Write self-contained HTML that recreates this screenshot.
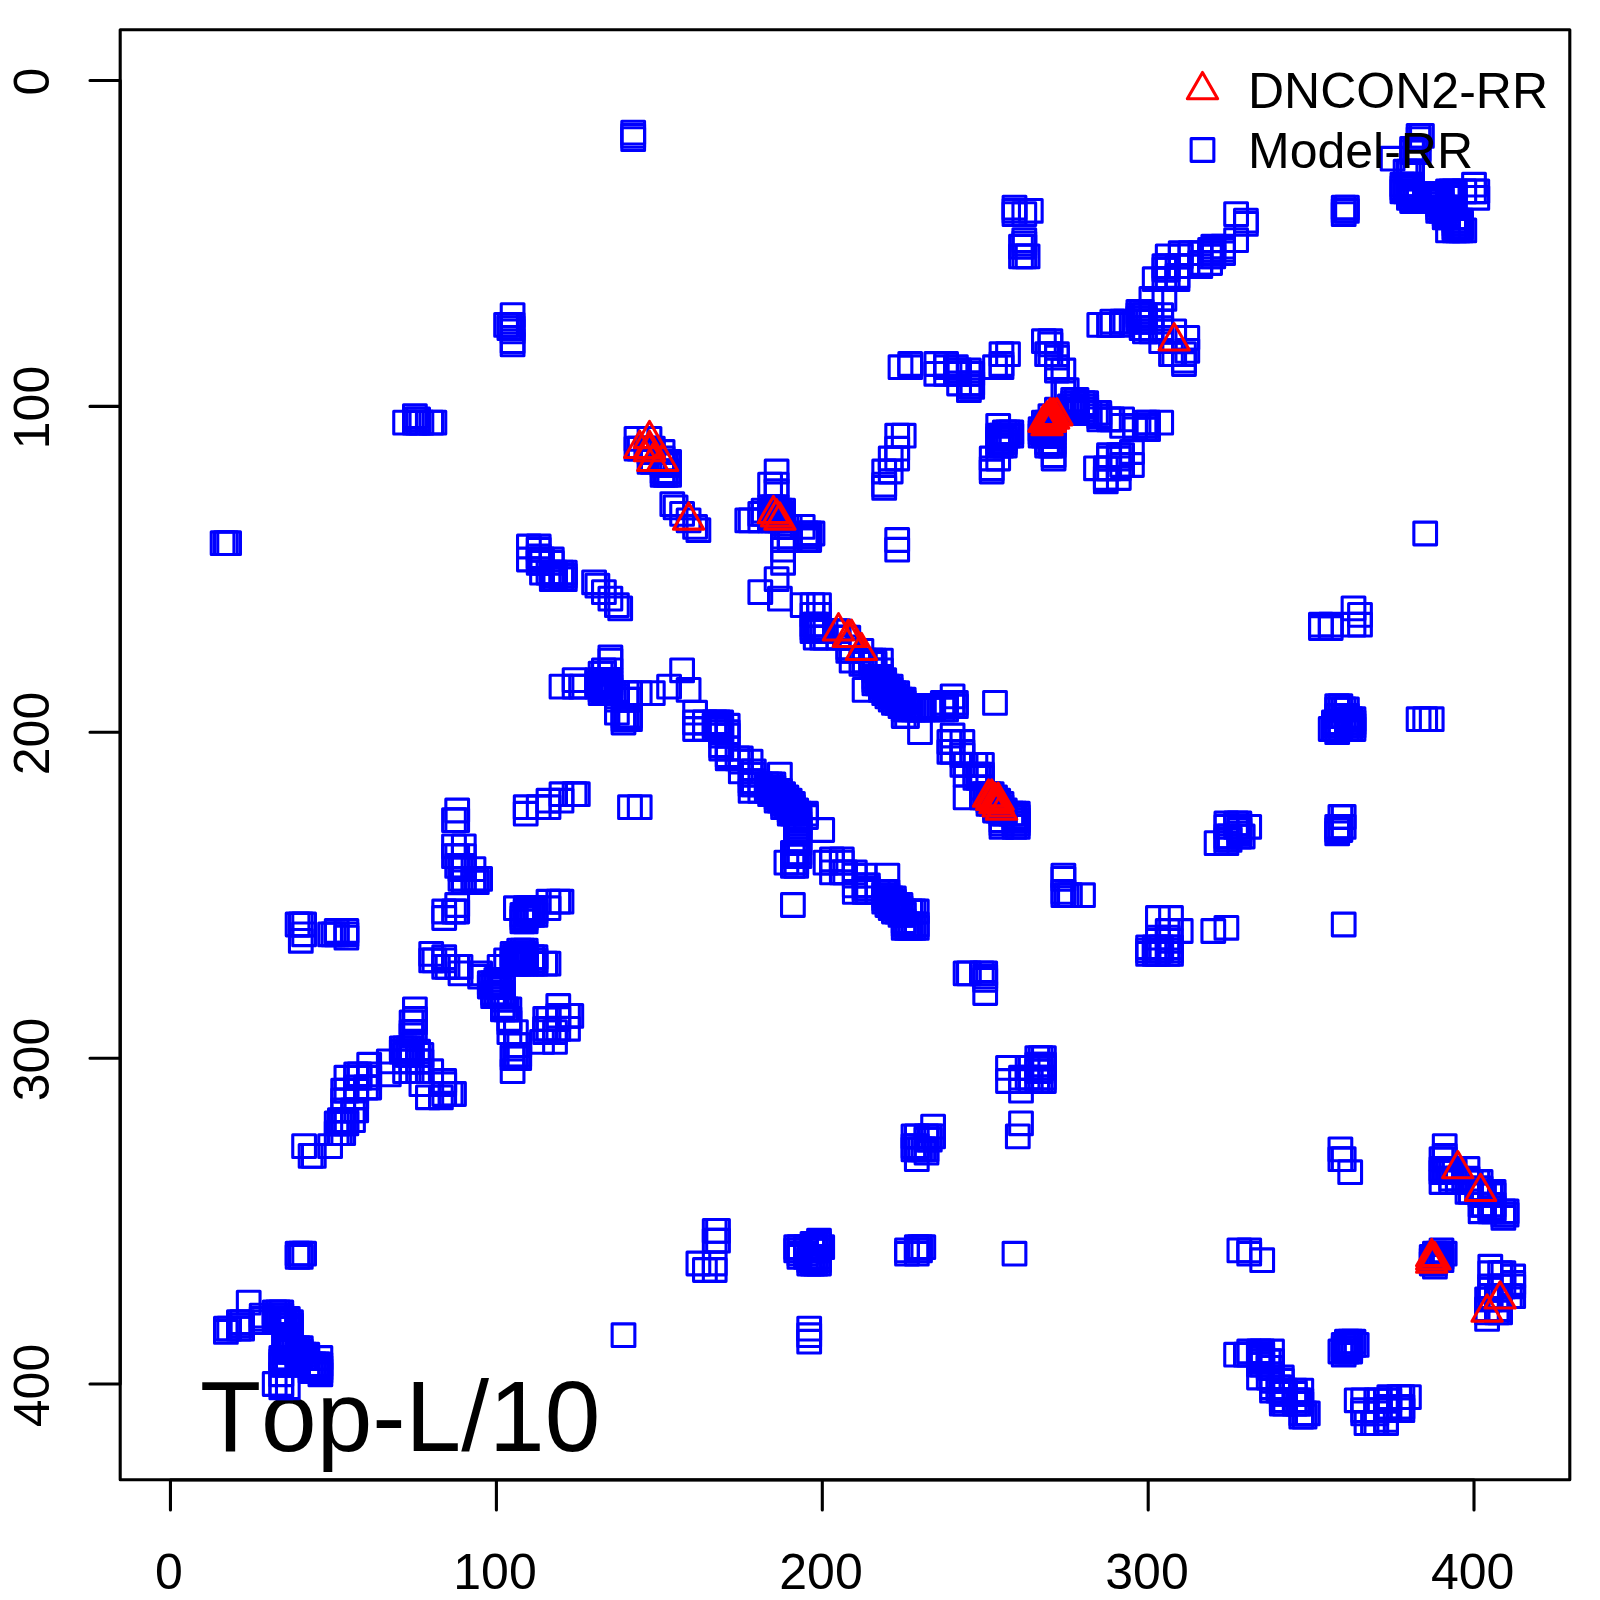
<!DOCTYPE html>
<html><head><meta charset="utf-8"><title>plot</title>
<style>
html,body{margin:0;padding:0;background:#fff;}
svg{display:block;}
text{font-family:"Liberation Sans",sans-serif;fill:#000;font-kerning:none;font-variant-ligatures:none;}
</style></head><body>
<svg xmlns="http://www.w3.org/2000/svg" width="1600" height="1600" viewBox="0 0 1600 1600">
<defs>
<rect id="s" x="-11.35" y="-11.35" width="22.7" height="22.7" fill="none" stroke="#0000ff" stroke-width="3.1" stroke-linejoin="round"/>
<path id="t" d="M0 -17.5 L15.15 8.75 L-15.15 8.75 Z" fill="none" stroke="#ff0000" stroke-width="3.1" stroke-linejoin="round"/>
</defs>
<rect x="0" y="0" width="1600" height="1600" fill="#fff"/>
<text x="200" y="1451" font-size="100">Top-L/10</text>
<g>
<use href="#s" x="222.6" y="543.2"/>
<use href="#s" x="225.9" y="543.2"/>
<use href="#s" x="225.9" y="1328.6"/>
<use href="#s" x="225.9" y="1331.9"/>
<use href="#s" x="229.1" y="543.2"/>
<use href="#s" x="229.1" y="1328.6"/>
<use href="#s" x="238.9" y="1322.1"/>
<use href="#s" x="238.9" y="1325.4"/>
<use href="#s" x="238.9" y="1328.6"/>
<use href="#s" x="242.1" y="1322.1"/>
<use href="#s" x="242.1" y="1325.4"/>
<use href="#s" x="242.1" y="1328.6"/>
<use href="#s" x="248.7" y="1302.6"/>
<use href="#s" x="261.7" y="1315.6"/>
<use href="#s" x="261.7" y="1318.9"/>
<use href="#s" x="261.7" y="1322.1"/>
<use href="#s" x="274.7" y="1312.4"/>
<use href="#s" x="274.7" y="1315.6"/>
<use href="#s" x="274.7" y="1318.9"/>
<use href="#s" x="274.7" y="1322.1"/>
<use href="#s" x="274.7" y="1384.0"/>
<use href="#s" x="278.0" y="1312.4"/>
<use href="#s" x="278.0" y="1315.6"/>
<use href="#s" x="278.0" y="1318.9"/>
<use href="#s" x="278.0" y="1322.1"/>
<use href="#s" x="281.3" y="1312.4"/>
<use href="#s" x="281.3" y="1315.6"/>
<use href="#s" x="281.3" y="1318.9"/>
<use href="#s" x="281.3" y="1322.1"/>
<use href="#s" x="281.3" y="1358.0"/>
<use href="#s" x="281.3" y="1361.2"/>
<use href="#s" x="281.3" y="1364.5"/>
<use href="#s" x="281.3" y="1374.3"/>
<use href="#s" x="281.3" y="1384.0"/>
<use href="#s" x="281.3" y="1387.3"/>
<use href="#s" x="284.5" y="1318.9"/>
<use href="#s" x="284.5" y="1322.1"/>
<use href="#s" x="284.5" y="1325.4"/>
<use href="#s" x="284.5" y="1328.6"/>
<use href="#s" x="284.5" y="1335.2"/>
<use href="#s" x="284.5" y="1338.4"/>
<use href="#s" x="284.5" y="1341.7"/>
<use href="#s" x="284.5" y="1344.9"/>
<use href="#s" x="284.5" y="1348.2"/>
<use href="#s" x="284.5" y="1351.5"/>
<use href="#s" x="284.5" y="1358.0"/>
<use href="#s" x="284.5" y="1361.2"/>
<use href="#s" x="284.5" y="1364.5"/>
<use href="#s" x="287.8" y="1318.9"/>
<use href="#s" x="287.8" y="1322.1"/>
<use href="#s" x="287.8" y="1325.4"/>
<use href="#s" x="287.8" y="1328.6"/>
<use href="#s" x="287.8" y="1335.2"/>
<use href="#s" x="287.8" y="1338.4"/>
<use href="#s" x="287.8" y="1341.7"/>
<use href="#s" x="287.8" y="1344.9"/>
<use href="#s" x="287.8" y="1348.2"/>
<use href="#s" x="287.8" y="1351.5"/>
<use href="#s" x="287.8" y="1358.0"/>
<use href="#s" x="287.8" y="1361.2"/>
<use href="#s" x="287.8" y="1364.5"/>
<use href="#s" x="287.8" y="1387.3"/>
<use href="#s" x="291.0" y="1322.1"/>
<use href="#s" x="291.0" y="1325.4"/>
<use href="#s" x="291.0" y="1328.6"/>
<use href="#s" x="291.0" y="1335.2"/>
<use href="#s" x="291.0" y="1338.4"/>
<use href="#s" x="291.0" y="1341.7"/>
<use href="#s" x="291.0" y="1344.9"/>
<use href="#s" x="291.0" y="1348.2"/>
<use href="#s" x="291.0" y="1351.5"/>
<use href="#s" x="294.3" y="1348.2"/>
<use href="#s" x="294.3" y="1351.5"/>
<use href="#s" x="297.6" y="924.5"/>
<use href="#s" x="297.6" y="1253.7"/>
<use href="#s" x="297.6" y="1256.9"/>
<use href="#s" x="297.6" y="1348.2"/>
<use href="#s" x="297.6" y="1351.5"/>
<use href="#s" x="297.6" y="1354.7"/>
<use href="#s" x="297.6" y="1358.0"/>
<use href="#s" x="297.6" y="1361.2"/>
<use href="#s" x="297.6" y="1364.5"/>
<use href="#s" x="300.8" y="924.5"/>
<use href="#s" x="300.8" y="940.8"/>
<use href="#s" x="300.8" y="1253.7"/>
<use href="#s" x="300.8" y="1256.9"/>
<use href="#s" x="300.8" y="1348.2"/>
<use href="#s" x="300.8" y="1351.5"/>
<use href="#s" x="300.8" y="1354.7"/>
<use href="#s" x="300.8" y="1358.0"/>
<use href="#s" x="304.1" y="924.5"/>
<use href="#s" x="304.1" y="934.3"/>
<use href="#s" x="304.1" y="1146.1"/>
<use href="#s" x="304.1" y="1253.7"/>
<use href="#s" x="304.1" y="1354.7"/>
<use href="#s" x="304.1" y="1358.0"/>
<use href="#s" x="307.3" y="1354.7"/>
<use href="#s" x="307.3" y="1358.0"/>
<use href="#s" x="307.3" y="1364.5"/>
<use href="#s" x="310.6" y="1155.9"/>
<use href="#s" x="310.6" y="1364.5"/>
<use href="#s" x="310.6" y="1367.8"/>
<use href="#s" x="310.6" y="1371.0"/>
<use href="#s" x="313.8" y="1155.9"/>
<use href="#s" x="313.8" y="1364.5"/>
<use href="#s" x="313.8" y="1367.8"/>
<use href="#s" x="313.8" y="1371.0"/>
<use href="#s" x="317.1" y="1364.5"/>
<use href="#s" x="317.1" y="1367.8"/>
<use href="#s" x="317.1" y="1371.0"/>
<use href="#s" x="320.4" y="1358.0"/>
<use href="#s" x="320.4" y="1364.5"/>
<use href="#s" x="320.4" y="1367.8"/>
<use href="#s" x="320.4" y="1371.0"/>
<use href="#s" x="320.4" y="1374.3"/>
<use href="#s" x="330.1" y="934.3"/>
<use href="#s" x="330.1" y="1146.1"/>
<use href="#s" x="333.4" y="934.3"/>
<use href="#s" x="336.7" y="931.0"/>
<use href="#s" x="336.7" y="934.3"/>
<use href="#s" x="336.7" y="1123.3"/>
<use href="#s" x="336.7" y="1133.1"/>
<use href="#s" x="339.9" y="1120.1"/>
<use href="#s" x="339.9" y="1123.3"/>
<use href="#s" x="339.9" y="1133.1"/>
<use href="#s" x="343.2" y="1090.7"/>
<use href="#s" x="343.2" y="1100.5"/>
<use href="#s" x="343.2" y="1110.3"/>
<use href="#s" x="343.2" y="1120.1"/>
<use href="#s" x="343.2" y="1123.3"/>
<use href="#s" x="343.2" y="1133.1"/>
<use href="#s" x="346.4" y="931.0"/>
<use href="#s" x="346.4" y="934.3"/>
<use href="#s" x="346.4" y="937.6"/>
<use href="#s" x="346.4" y="1077.7"/>
<use href="#s" x="346.4" y="1090.7"/>
<use href="#s" x="346.4" y="1120.1"/>
<use href="#s" x="346.4" y="1123.3"/>
<use href="#s" x="353.0" y="1110.3"/>
<use href="#s" x="353.0" y="1120.1"/>
<use href="#s" x="356.2" y="1074.4"/>
<use href="#s" x="356.2" y="1077.7"/>
<use href="#s" x="356.2" y="1087.5"/>
<use href="#s" x="356.2" y="1090.7"/>
<use href="#s" x="356.2" y="1097.3"/>
<use href="#s" x="356.2" y="1110.3"/>
<use href="#s" x="359.5" y="1074.4"/>
<use href="#s" x="359.5" y="1077.7"/>
<use href="#s" x="366.0" y="1087.5"/>
<use href="#s" x="369.2" y="1064.7"/>
<use href="#s" x="369.2" y="1074.4"/>
<use href="#s" x="369.2" y="1077.7"/>
<use href="#s" x="369.2" y="1087.5"/>
<use href="#s" x="388.8" y="1061.4"/>
<use href="#s" x="388.8" y="1074.4"/>
<use href="#s" x="401.8" y="1048.4"/>
<use href="#s" x="401.8" y="1051.6"/>
<use href="#s" x="405.1" y="422.6"/>
<use href="#s" x="405.1" y="1048.4"/>
<use href="#s" x="405.1" y="1051.6"/>
<use href="#s" x="405.1" y="1054.9"/>
<use href="#s" x="405.1" y="1061.4"/>
<use href="#s" x="405.1" y="1071.2"/>
<use href="#s" x="408.4" y="1048.4"/>
<use href="#s" x="408.4" y="1051.6"/>
<use href="#s" x="408.4" y="1054.9"/>
<use href="#s" x="411.6" y="1022.3"/>
<use href="#s" x="411.6" y="1032.1"/>
<use href="#s" x="411.6" y="1035.3"/>
<use href="#s" x="411.6" y="1048.4"/>
<use href="#s" x="411.6" y="1051.6"/>
<use href="#s" x="411.6" y="1054.9"/>
<use href="#s" x="411.6" y="1061.4"/>
<use href="#s" x="411.6" y="1071.2"/>
<use href="#s" x="414.9" y="416.1"/>
<use href="#s" x="414.9" y="419.4"/>
<use href="#s" x="414.9" y="422.6"/>
<use href="#s" x="414.9" y="1009.3"/>
<use href="#s" x="414.9" y="1019.0"/>
<use href="#s" x="414.9" y="1022.3"/>
<use href="#s" x="414.9" y="1032.1"/>
<use href="#s" x="418.1" y="419.4"/>
<use href="#s" x="418.1" y="422.6"/>
<use href="#s" x="418.1" y="1051.6"/>
<use href="#s" x="418.1" y="1054.9"/>
<use href="#s" x="418.1" y="1061.4"/>
<use href="#s" x="418.1" y="1071.2"/>
<use href="#s" x="421.4" y="422.6"/>
<use href="#s" x="421.4" y="1054.9"/>
<use href="#s" x="421.4" y="1061.4"/>
<use href="#s" x="421.4" y="1071.2"/>
<use href="#s" x="421.4" y="1084.2"/>
<use href="#s" x="427.9" y="1097.3"/>
<use href="#s" x="431.2" y="422.6"/>
<use href="#s" x="431.2" y="953.9"/>
<use href="#s" x="431.2" y="960.4"/>
<use href="#s" x="431.2" y="1071.2"/>
<use href="#s" x="434.4" y="422.6"/>
<use href="#s" x="434.4" y="960.4"/>
<use href="#s" x="440.9" y="1097.3"/>
<use href="#s" x="444.2" y="911.5"/>
<use href="#s" x="444.2" y="918.0"/>
<use href="#s" x="444.2" y="957.1"/>
<use href="#s" x="444.2" y="960.4"/>
<use href="#s" x="444.2" y="966.9"/>
<use href="#s" x="444.2" y="1081.0"/>
<use href="#s" x="444.2" y="1084.2"/>
<use href="#s" x="444.2" y="1094.0"/>
<use href="#s" x="447.5" y="966.9"/>
<use href="#s" x="450.7" y="1094.0"/>
<use href="#s" x="454.0" y="820.2"/>
<use href="#s" x="454.0" y="846.3"/>
<use href="#s" x="454.0" y="856.1"/>
<use href="#s" x="454.0" y="911.5"/>
<use href="#s" x="454.0" y="1094.0"/>
<use href="#s" x="457.2" y="810.5"/>
<use href="#s" x="457.2" y="820.2"/>
<use href="#s" x="457.2" y="856.1"/>
<use href="#s" x="457.2" y="865.9"/>
<use href="#s" x="457.2" y="905.0"/>
<use href="#s" x="457.2" y="911.5"/>
<use href="#s" x="457.2" y="966.9"/>
<use href="#s" x="460.5" y="865.9"/>
<use href="#s" x="460.5" y="869.1"/>
<use href="#s" x="460.5" y="878.9"/>
<use href="#s" x="460.5" y="966.9"/>
<use href="#s" x="460.5" y="973.4"/>
<use href="#s" x="463.8" y="846.3"/>
<use href="#s" x="463.8" y="856.1"/>
<use href="#s" x="463.8" y="865.9"/>
<use href="#s" x="463.8" y="869.1"/>
<use href="#s" x="463.8" y="878.9"/>
<use href="#s" x="463.8" y="882.2"/>
<use href="#s" x="473.5" y="869.1"/>
<use href="#s" x="473.5" y="878.9"/>
<use href="#s" x="473.5" y="882.2"/>
<use href="#s" x="476.8" y="878.9"/>
<use href="#s" x="476.8" y="882.2"/>
<use href="#s" x="480.1" y="878.9"/>
<use href="#s" x="480.1" y="973.4"/>
<use href="#s" x="480.1" y="976.7"/>
<use href="#s" x="489.8" y="983.2"/>
<use href="#s" x="489.8" y="986.5"/>
<use href="#s" x="493.1" y="983.2"/>
<use href="#s" x="493.1" y="986.5"/>
<use href="#s" x="493.1" y="993.0"/>
<use href="#s" x="493.1" y="996.2"/>
<use href="#s" x="496.3" y="979.9"/>
<use href="#s" x="496.3" y="983.2"/>
<use href="#s" x="496.3" y="986.5"/>
<use href="#s" x="496.3" y="993.0"/>
<use href="#s" x="496.3" y="996.2"/>
<use href="#s" x="499.6" y="966.9"/>
<use href="#s" x="499.6" y="979.9"/>
<use href="#s" x="499.6" y="983.2"/>
<use href="#s" x="499.6" y="986.5"/>
<use href="#s" x="499.6" y="993.0"/>
<use href="#s" x="499.6" y="996.2"/>
<use href="#s" x="502.9" y="983.2"/>
<use href="#s" x="502.9" y="986.5"/>
<use href="#s" x="502.9" y="993.0"/>
<use href="#s" x="502.9" y="996.2"/>
<use href="#s" x="502.9" y="999.5"/>
<use href="#s" x="502.9" y="1006.0"/>
<use href="#s" x="502.9" y="1009.3"/>
<use href="#s" x="506.1" y="324.9"/>
<use href="#s" x="506.1" y="960.4"/>
<use href="#s" x="506.1" y="1009.3"/>
<use href="#s" x="509.4" y="324.9"/>
<use href="#s" x="509.4" y="328.1"/>
<use href="#s" x="509.4" y="1009.3"/>
<use href="#s" x="509.4" y="1019.0"/>
<use href="#s" x="509.4" y="1022.3"/>
<use href="#s" x="509.4" y="1032.1"/>
<use href="#s" x="512.6" y="315.1"/>
<use href="#s" x="512.6" y="324.9"/>
<use href="#s" x="512.6" y="328.1"/>
<use href="#s" x="512.6" y="331.4"/>
<use href="#s" x="512.6" y="341.2"/>
<use href="#s" x="512.6" y="344.4"/>
<use href="#s" x="512.6" y="953.9"/>
<use href="#s" x="512.6" y="957.1"/>
<use href="#s" x="512.6" y="960.4"/>
<use href="#s" x="512.6" y="963.6"/>
<use href="#s" x="512.6" y="1054.9"/>
<use href="#s" x="512.6" y="1058.1"/>
<use href="#s" x="512.6" y="1071.2"/>
<use href="#s" x="515.9" y="908.2"/>
<use href="#s" x="515.9" y="953.9"/>
<use href="#s" x="515.9" y="957.1"/>
<use href="#s" x="515.9" y="960.4"/>
<use href="#s" x="515.9" y="963.6"/>
<use href="#s" x="515.9" y="1032.1"/>
<use href="#s" x="515.9" y="1045.1"/>
<use href="#s" x="515.9" y="1054.9"/>
<use href="#s" x="515.9" y="1058.1"/>
<use href="#s" x="519.2" y="950.6"/>
<use href="#s" x="519.2" y="953.9"/>
<use href="#s" x="519.2" y="957.1"/>
<use href="#s" x="519.2" y="960.4"/>
<use href="#s" x="519.2" y="963.6"/>
<use href="#s" x="519.2" y="1045.1"/>
<use href="#s" x="519.2" y="1054.9"/>
<use href="#s" x="519.2" y="1058.1"/>
<use href="#s" x="522.4" y="914.8"/>
<use href="#s" x="522.4" y="918.0"/>
<use href="#s" x="522.4" y="921.3"/>
<use href="#s" x="522.4" y="950.6"/>
<use href="#s" x="522.4" y="953.9"/>
<use href="#s" x="522.4" y="957.1"/>
<use href="#s" x="522.4" y="960.4"/>
<use href="#s" x="522.4" y="963.6"/>
<use href="#s" x="525.7" y="807.2"/>
<use href="#s" x="525.7" y="813.7"/>
<use href="#s" x="525.7" y="908.2"/>
<use href="#s" x="525.7" y="911.5"/>
<use href="#s" x="525.7" y="914.8"/>
<use href="#s" x="525.7" y="918.0"/>
<use href="#s" x="525.7" y="921.3"/>
<use href="#s" x="525.7" y="950.6"/>
<use href="#s" x="525.7" y="953.9"/>
<use href="#s" x="525.7" y="957.1"/>
<use href="#s" x="525.7" y="960.4"/>
<use href="#s" x="525.7" y="963.6"/>
<use href="#s" x="528.9" y="546.5"/>
<use href="#s" x="528.9" y="559.5"/>
<use href="#s" x="528.9" y="908.2"/>
<use href="#s" x="528.9" y="911.5"/>
<use href="#s" x="528.9" y="914.8"/>
<use href="#s" x="532.2" y="908.2"/>
<use href="#s" x="532.2" y="911.5"/>
<use href="#s" x="532.2" y="914.8"/>
<use href="#s" x="532.2" y="957.1"/>
<use href="#s" x="532.2" y="960.4"/>
<use href="#s" x="532.2" y="963.6"/>
<use href="#s" x="535.5" y="908.2"/>
<use href="#s" x="535.5" y="911.5"/>
<use href="#s" x="535.5" y="914.8"/>
<use href="#s" x="535.5" y="957.1"/>
<use href="#s" x="535.5" y="960.4"/>
<use href="#s" x="535.5" y="963.6"/>
<use href="#s" x="538.7" y="546.5"/>
<use href="#s" x="538.7" y="549.7"/>
<use href="#s" x="538.7" y="556.3"/>
<use href="#s" x="538.7" y="559.5"/>
<use href="#s" x="538.7" y="562.8"/>
<use href="#s" x="538.7" y="807.2"/>
<use href="#s" x="542.0" y="559.5"/>
<use href="#s" x="542.0" y="562.8"/>
<use href="#s" x="542.0" y="572.6"/>
<use href="#s" x="542.0" y="1041.9"/>
<use href="#s" x="545.2" y="963.6"/>
<use href="#s" x="545.2" y="1019.0"/>
<use href="#s" x="545.2" y="1028.8"/>
<use href="#s" x="545.2" y="1032.1"/>
<use href="#s" x="548.5" y="572.6"/>
<use href="#s" x="548.5" y="800.7"/>
<use href="#s" x="548.5" y="807.2"/>
<use href="#s" x="548.5" y="901.7"/>
<use href="#s" x="548.5" y="908.2"/>
<use href="#s" x="548.5" y="963.6"/>
<use href="#s" x="548.5" y="1019.0"/>
<use href="#s" x="548.5" y="1028.8"/>
<use href="#s" x="551.8" y="559.5"/>
<use href="#s" x="551.8" y="562.8"/>
<use href="#s" x="551.8" y="572.6"/>
<use href="#s" x="551.8" y="575.8"/>
<use href="#s" x="551.8" y="579.1"/>
<use href="#s" x="555.0" y="572.6"/>
<use href="#s" x="555.0" y="575.8"/>
<use href="#s" x="555.0" y="579.1"/>
<use href="#s" x="555.0" y="1032.1"/>
<use href="#s" x="555.0" y="1041.9"/>
<use href="#s" x="558.3" y="901.7"/>
<use href="#s" x="558.3" y="1006.0"/>
<use href="#s" x="558.3" y="1015.8"/>
<use href="#s" x="558.3" y="1019.0"/>
<use href="#s" x="558.3" y="1028.8"/>
<use href="#s" x="561.5" y="572.6"/>
<use href="#s" x="561.5" y="575.8"/>
<use href="#s" x="561.5" y="579.1"/>
<use href="#s" x="561.5" y="686.6"/>
<use href="#s" x="561.5" y="794.2"/>
<use href="#s" x="561.5" y="800.7"/>
<use href="#s" x="561.5" y="901.7"/>
<use href="#s" x="564.8" y="572.6"/>
<use href="#s" x="564.8" y="575.8"/>
<use href="#s" x="564.8" y="579.1"/>
<use href="#s" x="568.0" y="1015.8"/>
<use href="#s" x="568.0" y="1028.8"/>
<use href="#s" x="571.3" y="1015.8"/>
<use href="#s" x="574.6" y="680.1"/>
<use href="#s" x="574.6" y="686.6"/>
<use href="#s" x="574.6" y="794.2"/>
<use href="#s" x="577.8" y="794.2"/>
<use href="#s" x="581.1" y="686.6"/>
<use href="#s" x="594.1" y="582.3"/>
<use href="#s" x="597.4" y="585.6"/>
<use href="#s" x="597.4" y="680.1"/>
<use href="#s" x="597.4" y="683.4"/>
<use href="#s" x="597.4" y="686.6"/>
<use href="#s" x="600.6" y="673.6"/>
<use href="#s" x="600.6" y="680.1"/>
<use href="#s" x="600.6" y="683.4"/>
<use href="#s" x="600.6" y="686.6"/>
<use href="#s" x="600.6" y="689.9"/>
<use href="#s" x="600.6" y="693.1"/>
<use href="#s" x="603.9" y="592.1"/>
<use href="#s" x="603.9" y="670.3"/>
<use href="#s" x="603.9" y="673.6"/>
<use href="#s" x="603.9" y="680.1"/>
<use href="#s" x="603.9" y="683.4"/>
<use href="#s" x="603.9" y="686.6"/>
<use href="#s" x="603.9" y="689.9"/>
<use href="#s" x="603.9" y="693.1"/>
<use href="#s" x="607.2" y="680.1"/>
<use href="#s" x="607.2" y="683.4"/>
<use href="#s" x="607.2" y="686.6"/>
<use href="#s" x="607.2" y="689.9"/>
<use href="#s" x="607.2" y="693.1"/>
<use href="#s" x="610.4" y="598.6"/>
<use href="#s" x="610.4" y="657.3"/>
<use href="#s" x="610.4" y="660.6"/>
<use href="#s" x="610.4" y="670.3"/>
<use href="#s" x="610.4" y="680.1"/>
<use href="#s" x="610.4" y="683.4"/>
<use href="#s" x="610.4" y="686.6"/>
<use href="#s" x="610.4" y="689.9"/>
<use href="#s" x="610.4" y="693.1"/>
<use href="#s" x="613.7" y="693.1"/>
<use href="#s" x="616.9" y="605.1"/>
<use href="#s" x="616.9" y="693.1"/>
<use href="#s" x="616.9" y="696.4"/>
<use href="#s" x="616.9" y="699.7"/>
<use href="#s" x="616.9" y="712.7"/>
<use href="#s" x="620.2" y="608.4"/>
<use href="#s" x="623.5" y="716.0"/>
<use href="#s" x="623.5" y="719.2"/>
<use href="#s" x="623.5" y="722.5"/>
<use href="#s" x="623.5" y="1335.2"/>
<use href="#s" x="626.7" y="693.1"/>
<use href="#s" x="626.7" y="699.7"/>
<use href="#s" x="626.7" y="716.0"/>
<use href="#s" x="626.7" y="719.2"/>
<use href="#s" x="630.0" y="693.1"/>
<use href="#s" x="630.0" y="699.7"/>
<use href="#s" x="630.0" y="716.0"/>
<use href="#s" x="630.0" y="719.2"/>
<use href="#s" x="630.0" y="807.2"/>
<use href="#s" x="633.2" y="132.6"/>
<use href="#s" x="633.2" y="135.9"/>
<use href="#s" x="633.2" y="139.1"/>
<use href="#s" x="636.5" y="438.9"/>
<use href="#s" x="636.5" y="448.7"/>
<use href="#s" x="639.7" y="448.7"/>
<use href="#s" x="639.7" y="693.1"/>
<use href="#s" x="639.7" y="807.2"/>
<use href="#s" x="646.3" y="448.7"/>
<use href="#s" x="649.5" y="438.9"/>
<use href="#s" x="649.5" y="448.7"/>
<use href="#s" x="649.5" y="452.0"/>
<use href="#s" x="649.5" y="461.8"/>
<use href="#s" x="652.8" y="448.7"/>
<use href="#s" x="652.8" y="452.0"/>
<use href="#s" x="652.8" y="461.8"/>
<use href="#s" x="652.8" y="693.1"/>
<use href="#s" x="662.6" y="452.0"/>
<use href="#s" x="662.6" y="458.5"/>
<use href="#s" x="662.6" y="461.8"/>
<use href="#s" x="662.6" y="465.0"/>
<use href="#s" x="662.6" y="471.5"/>
<use href="#s" x="662.6" y="474.8"/>
<use href="#s" x="665.8" y="461.8"/>
<use href="#s" x="665.8" y="465.0"/>
<use href="#s" x="665.8" y="471.5"/>
<use href="#s" x="665.8" y="474.8"/>
<use href="#s" x="669.1" y="461.8"/>
<use href="#s" x="669.1" y="465.0"/>
<use href="#s" x="669.1" y="471.5"/>
<use href="#s" x="669.1" y="474.8"/>
<use href="#s" x="669.1" y="686.6"/>
<use href="#s" x="672.3" y="504.1"/>
<use href="#s" x="675.6" y="507.4"/>
<use href="#s" x="682.1" y="513.9"/>
<use href="#s" x="682.1" y="670.3"/>
<use href="#s" x="688.6" y="520.4"/>
<use href="#s" x="688.6" y="689.9"/>
<use href="#s" x="695.1" y="526.9"/>
<use href="#s" x="695.1" y="712.7"/>
<use href="#s" x="695.1" y="722.5"/>
<use href="#s" x="695.1" y="729.0"/>
<use href="#s" x="698.4" y="530.2"/>
<use href="#s" x="698.4" y="1263.5"/>
<use href="#s" x="704.9" y="722.5"/>
<use href="#s" x="704.9" y="729.0"/>
<use href="#s" x="704.9" y="1270.0"/>
<use href="#s" x="714.7" y="722.5"/>
<use href="#s" x="714.7" y="725.7"/>
<use href="#s" x="714.7" y="729.0"/>
<use href="#s" x="714.7" y="1230.9"/>
<use href="#s" x="714.7" y="1240.7"/>
<use href="#s" x="714.7" y="1263.5"/>
<use href="#s" x="714.7" y="1270.0"/>
<use href="#s" x="718.0" y="722.5"/>
<use href="#s" x="718.0" y="725.7"/>
<use href="#s" x="718.0" y="729.0"/>
<use href="#s" x="718.0" y="1230.9"/>
<use href="#s" x="718.0" y="1240.7"/>
<use href="#s" x="721.2" y="722.5"/>
<use href="#s" x="721.2" y="725.7"/>
<use href="#s" x="721.2" y="729.0"/>
<use href="#s" x="721.2" y="732.2"/>
<use href="#s" x="721.2" y="735.5"/>
<use href="#s" x="721.2" y="745.3"/>
<use href="#s" x="721.2" y="748.5"/>
<use href="#s" x="727.7" y="725.7"/>
<use href="#s" x="727.7" y="732.2"/>
<use href="#s" x="727.7" y="735.5"/>
<use href="#s" x="727.7" y="748.5"/>
<use href="#s" x="727.7" y="755.1"/>
<use href="#s" x="727.7" y="758.3"/>
<use href="#s" x="737.5" y="758.3"/>
<use href="#s" x="740.8" y="758.3"/>
<use href="#s" x="740.8" y="761.6"/>
<use href="#s" x="740.8" y="771.4"/>
<use href="#s" x="747.3" y="520.4"/>
<use href="#s" x="750.6" y="520.4"/>
<use href="#s" x="750.6" y="761.6"/>
<use href="#s" x="750.6" y="774.6"/>
<use href="#s" x="750.6" y="781.1"/>
<use href="#s" x="750.6" y="784.4"/>
<use href="#s" x="750.6" y="790.9"/>
<use href="#s" x="753.8" y="771.4"/>
<use href="#s" x="753.8" y="774.6"/>
<use href="#s" x="753.8" y="781.1"/>
<use href="#s" x="753.8" y="784.4"/>
<use href="#s" x="760.3" y="513.9"/>
<use href="#s" x="760.3" y="520.4"/>
<use href="#s" x="760.3" y="592.1"/>
<use href="#s" x="760.3" y="784.4"/>
<use href="#s" x="760.3" y="790.9"/>
<use href="#s" x="763.6" y="510.6"/>
<use href="#s" x="763.6" y="513.9"/>
<use href="#s" x="766.8" y="784.4"/>
<use href="#s" x="766.8" y="787.7"/>
<use href="#s" x="766.8" y="790.9"/>
<use href="#s" x="770.1" y="484.6"/>
<use href="#s" x="770.1" y="507.4"/>
<use href="#s" x="770.1" y="510.6"/>
<use href="#s" x="770.1" y="513.9"/>
<use href="#s" x="770.1" y="517.2"/>
<use href="#s" x="770.1" y="520.4"/>
<use href="#s" x="770.1" y="784.4"/>
<use href="#s" x="770.1" y="787.7"/>
<use href="#s" x="770.1" y="790.9"/>
<use href="#s" x="770.1" y="794.2"/>
<use href="#s" x="773.4" y="507.4"/>
<use href="#s" x="773.4" y="510.6"/>
<use href="#s" x="773.4" y="513.9"/>
<use href="#s" x="773.4" y="517.2"/>
<use href="#s" x="773.4" y="520.4"/>
<use href="#s" x="773.4" y="784.4"/>
<use href="#s" x="773.4" y="787.7"/>
<use href="#s" x="773.4" y="790.9"/>
<use href="#s" x="773.4" y="794.2"/>
<use href="#s" x="776.6" y="471.5"/>
<use href="#s" x="776.6" y="484.6"/>
<use href="#s" x="776.6" y="491.1"/>
<use href="#s" x="776.6" y="507.4"/>
<use href="#s" x="776.6" y="510.6"/>
<use href="#s" x="776.6" y="513.9"/>
<use href="#s" x="776.6" y="517.2"/>
<use href="#s" x="776.6" y="520.4"/>
<use href="#s" x="776.6" y="579.1"/>
<use href="#s" x="776.6" y="790.9"/>
<use href="#s" x="776.6" y="794.2"/>
<use href="#s" x="776.6" y="797.4"/>
<use href="#s" x="776.6" y="800.7"/>
<use href="#s" x="779.9" y="510.6"/>
<use href="#s" x="779.9" y="513.9"/>
<use href="#s" x="779.9" y="517.2"/>
<use href="#s" x="779.9" y="520.4"/>
<use href="#s" x="779.9" y="598.6"/>
<use href="#s" x="779.9" y="774.6"/>
<use href="#s" x="779.9" y="790.9"/>
<use href="#s" x="779.9" y="794.2"/>
<use href="#s" x="779.9" y="797.4"/>
<use href="#s" x="779.9" y="800.7"/>
<use href="#s" x="783.1" y="510.6"/>
<use href="#s" x="783.1" y="513.9"/>
<use href="#s" x="783.1" y="517.2"/>
<use href="#s" x="783.1" y="520.4"/>
<use href="#s" x="783.1" y="523.7"/>
<use href="#s" x="783.1" y="526.9"/>
<use href="#s" x="783.1" y="536.7"/>
<use href="#s" x="783.1" y="540.0"/>
<use href="#s" x="783.1" y="549.7"/>
<use href="#s" x="783.1" y="562.8"/>
<use href="#s" x="783.1" y="794.2"/>
<use href="#s" x="783.1" y="797.4"/>
<use href="#s" x="783.1" y="800.7"/>
<use href="#s" x="783.1" y="803.9"/>
<use href="#s" x="783.1" y="807.2"/>
<use href="#s" x="786.4" y="526.9"/>
<use href="#s" x="786.4" y="797.4"/>
<use href="#s" x="786.4" y="800.7"/>
<use href="#s" x="786.4" y="803.9"/>
<use href="#s" x="786.4" y="807.2"/>
<use href="#s" x="786.4" y="862.6"/>
<use href="#s" x="789.7" y="526.9"/>
<use href="#s" x="789.7" y="536.7"/>
<use href="#s" x="789.7" y="540.0"/>
<use href="#s" x="789.7" y="800.7"/>
<use href="#s" x="789.7" y="803.9"/>
<use href="#s" x="789.7" y="807.2"/>
<use href="#s" x="789.7" y="810.5"/>
<use href="#s" x="789.7" y="813.7"/>
<use href="#s" x="792.9" y="803.9"/>
<use href="#s" x="792.9" y="807.2"/>
<use href="#s" x="792.9" y="810.5"/>
<use href="#s" x="792.9" y="813.7"/>
<use href="#s" x="792.9" y="852.8"/>
<use href="#s" x="792.9" y="856.1"/>
<use href="#s" x="792.9" y="862.6"/>
<use href="#s" x="792.9" y="865.9"/>
<use href="#s" x="792.9" y="905.0"/>
<use href="#s" x="796.2" y="810.5"/>
<use href="#s" x="796.2" y="813.7"/>
<use href="#s" x="796.2" y="817.0"/>
<use href="#s" x="796.2" y="820.2"/>
<use href="#s" x="796.2" y="823.5"/>
<use href="#s" x="796.2" y="826.8"/>
<use href="#s" x="796.2" y="830.0"/>
<use href="#s" x="796.2" y="833.3"/>
<use href="#s" x="796.2" y="839.8"/>
<use href="#s" x="796.2" y="843.1"/>
<use href="#s" x="796.2" y="852.8"/>
<use href="#s" x="796.2" y="856.1"/>
<use href="#s" x="796.2" y="862.6"/>
<use href="#s" x="796.2" y="865.9"/>
<use href="#s" x="796.2" y="1247.2"/>
<use href="#s" x="796.2" y="1250.4"/>
<use href="#s" x="799.4" y="813.7"/>
<use href="#s" x="799.4" y="817.0"/>
<use href="#s" x="799.4" y="820.2"/>
<use href="#s" x="799.4" y="823.5"/>
<use href="#s" x="799.4" y="826.8"/>
<use href="#s" x="799.4" y="830.0"/>
<use href="#s" x="799.4" y="833.3"/>
<use href="#s" x="799.4" y="839.8"/>
<use href="#s" x="799.4" y="843.1"/>
<use href="#s" x="799.4" y="852.8"/>
<use href="#s" x="799.4" y="856.1"/>
<use href="#s" x="799.4" y="1247.2"/>
<use href="#s" x="799.4" y="1250.4"/>
<use href="#s" x="799.4" y="1253.7"/>
<use href="#s" x="799.4" y="1256.9"/>
<use href="#s" x="802.7" y="526.9"/>
<use href="#s" x="802.7" y="605.1"/>
<use href="#s" x="806.0" y="533.5"/>
<use href="#s" x="806.0" y="536.7"/>
<use href="#s" x="806.0" y="540.0"/>
<use href="#s" x="806.0" y="813.7"/>
<use href="#s" x="806.0" y="817.0"/>
<use href="#s" x="806.0" y="1247.2"/>
<use href="#s" x="806.0" y="1250.4"/>
<use href="#s" x="806.0" y="1253.7"/>
<use href="#s" x="806.0" y="1256.9"/>
<use href="#s" x="809.2" y="533.5"/>
<use href="#s" x="809.2" y="536.7"/>
<use href="#s" x="809.2" y="540.0"/>
<use href="#s" x="809.2" y="1256.9"/>
<use href="#s" x="809.2" y="1260.2"/>
<use href="#s" x="809.2" y="1263.5"/>
<use href="#s" x="809.2" y="1328.6"/>
<use href="#s" x="809.2" y="1335.2"/>
<use href="#s" x="809.2" y="1341.7"/>
<use href="#s" x="812.5" y="533.5"/>
<use href="#s" x="812.5" y="605.1"/>
<use href="#s" x="812.5" y="614.9"/>
<use href="#s" x="812.5" y="624.7"/>
<use href="#s" x="812.5" y="628.0"/>
<use href="#s" x="812.5" y="631.2"/>
<use href="#s" x="812.5" y="1243.9"/>
<use href="#s" x="812.5" y="1247.2"/>
<use href="#s" x="812.5" y="1250.4"/>
<use href="#s" x="812.5" y="1256.9"/>
<use href="#s" x="812.5" y="1260.2"/>
<use href="#s" x="812.5" y="1263.5"/>
<use href="#s" x="815.7" y="624.7"/>
<use href="#s" x="815.7" y="628.0"/>
<use href="#s" x="815.7" y="631.2"/>
<use href="#s" x="815.7" y="637.7"/>
<use href="#s" x="815.7" y="1243.9"/>
<use href="#s" x="815.7" y="1247.2"/>
<use href="#s" x="815.7" y="1250.4"/>
<use href="#s" x="815.7" y="1256.9"/>
<use href="#s" x="815.7" y="1260.2"/>
<use href="#s" x="815.7" y="1263.5"/>
<use href="#s" x="819.0" y="605.1"/>
<use href="#s" x="819.0" y="614.9"/>
<use href="#s" x="819.0" y="624.7"/>
<use href="#s" x="819.0" y="628.0"/>
<use href="#s" x="819.0" y="631.2"/>
<use href="#s" x="819.0" y="1240.7"/>
<use href="#s" x="819.0" y="1243.9"/>
<use href="#s" x="819.0" y="1247.2"/>
<use href="#s" x="819.0" y="1250.4"/>
<use href="#s" x="819.0" y="1256.9"/>
<use href="#s" x="819.0" y="1260.2"/>
<use href="#s" x="819.0" y="1263.5"/>
<use href="#s" x="822.2" y="631.2"/>
<use href="#s" x="822.2" y="637.7"/>
<use href="#s" x="822.2" y="830.0"/>
<use href="#s" x="822.2" y="1247.2"/>
<use href="#s" x="825.5" y="631.2"/>
<use href="#s" x="825.5" y="637.7"/>
<use href="#s" x="825.5" y="862.6"/>
<use href="#s" x="832.0" y="859.4"/>
<use href="#s" x="832.0" y="862.6"/>
<use href="#s" x="832.0" y="872.4"/>
<use href="#s" x="835.3" y="631.2"/>
<use href="#s" x="838.5" y="631.2"/>
<use href="#s" x="838.5" y="637.7"/>
<use href="#s" x="841.8" y="859.4"/>
<use href="#s" x="841.8" y="862.6"/>
<use href="#s" x="841.8" y="872.4"/>
<use href="#s" x="845.1" y="637.7"/>
<use href="#s" x="845.1" y="872.4"/>
<use href="#s" x="848.3" y="637.7"/>
<use href="#s" x="848.3" y="647.5"/>
<use href="#s" x="848.3" y="650.8"/>
<use href="#s" x="851.6" y="650.8"/>
<use href="#s" x="851.6" y="660.6"/>
<use href="#s" x="854.8" y="872.4"/>
<use href="#s" x="854.8" y="875.6"/>
<use href="#s" x="854.8" y="885.4"/>
<use href="#s" x="854.8" y="891.9"/>
<use href="#s" x="861.4" y="650.8"/>
<use href="#s" x="861.4" y="663.8"/>
<use href="#s" x="864.6" y="660.6"/>
<use href="#s" x="864.6" y="663.8"/>
<use href="#s" x="864.6" y="689.9"/>
<use href="#s" x="864.6" y="875.6"/>
<use href="#s" x="864.6" y="885.4"/>
<use href="#s" x="864.6" y="888.7"/>
<use href="#s" x="864.6" y="891.9"/>
<use href="#s" x="867.9" y="885.4"/>
<use href="#s" x="867.9" y="888.7"/>
<use href="#s" x="867.9" y="891.9"/>
<use href="#s" x="871.1" y="660.6"/>
<use href="#s" x="871.1" y="663.8"/>
<use href="#s" x="874.4" y="660.6"/>
<use href="#s" x="874.4" y="663.8"/>
<use href="#s" x="874.4" y="670.3"/>
<use href="#s" x="874.4" y="676.8"/>
<use href="#s" x="874.4" y="680.1"/>
<use href="#s" x="874.4" y="683.4"/>
<use href="#s" x="877.7" y="676.8"/>
<use href="#s" x="877.7" y="680.1"/>
<use href="#s" x="877.7" y="683.4"/>
<use href="#s" x="877.7" y="891.9"/>
<use href="#s" x="880.9" y="660.6"/>
<use href="#s" x="880.9" y="670.3"/>
<use href="#s" x="880.9" y="676.8"/>
<use href="#s" x="880.9" y="680.1"/>
<use href="#s" x="880.9" y="683.4"/>
<use href="#s" x="880.9" y="686.6"/>
<use href="#s" x="880.9" y="689.9"/>
<use href="#s" x="884.2" y="471.5"/>
<use href="#s" x="884.2" y="484.6"/>
<use href="#s" x="884.2" y="487.8"/>
<use href="#s" x="884.2" y="680.1"/>
<use href="#s" x="884.2" y="683.4"/>
<use href="#s" x="884.2" y="686.6"/>
<use href="#s" x="884.2" y="689.9"/>
<use href="#s" x="884.2" y="693.1"/>
<use href="#s" x="884.2" y="891.9"/>
<use href="#s" x="884.2" y="895.2"/>
<use href="#s" x="884.2" y="898.5"/>
<use href="#s" x="884.2" y="901.7"/>
<use href="#s" x="887.4" y="686.6"/>
<use href="#s" x="887.4" y="689.9"/>
<use href="#s" x="887.4" y="693.1"/>
<use href="#s" x="887.4" y="696.4"/>
<use href="#s" x="887.4" y="875.6"/>
<use href="#s" x="887.4" y="891.9"/>
<use href="#s" x="887.4" y="895.2"/>
<use href="#s" x="887.4" y="898.5"/>
<use href="#s" x="887.4" y="901.7"/>
<use href="#s" x="887.4" y="905.0"/>
<use href="#s" x="890.7" y="458.5"/>
<use href="#s" x="890.7" y="471.5"/>
<use href="#s" x="890.7" y="686.6"/>
<use href="#s" x="890.7" y="689.9"/>
<use href="#s" x="890.7" y="693.1"/>
<use href="#s" x="890.7" y="696.4"/>
<use href="#s" x="890.7" y="699.7"/>
<use href="#s" x="890.7" y="898.5"/>
<use href="#s" x="890.7" y="901.7"/>
<use href="#s" x="890.7" y="905.0"/>
<use href="#s" x="890.7" y="908.2"/>
<use href="#s" x="893.9" y="693.1"/>
<use href="#s" x="893.9" y="696.4"/>
<use href="#s" x="893.9" y="699.7"/>
<use href="#s" x="893.9" y="702.9"/>
<use href="#s" x="893.9" y="898.5"/>
<use href="#s" x="893.9" y="901.7"/>
<use href="#s" x="893.9" y="905.0"/>
<use href="#s" x="893.9" y="908.2"/>
<use href="#s" x="893.9" y="911.5"/>
<use href="#s" x="897.2" y="435.7"/>
<use href="#s" x="897.2" y="448.7"/>
<use href="#s" x="897.2" y="458.5"/>
<use href="#s" x="897.2" y="540.0"/>
<use href="#s" x="897.2" y="549.7"/>
<use href="#s" x="897.2" y="693.1"/>
<use href="#s" x="897.2" y="696.4"/>
<use href="#s" x="897.2" y="699.7"/>
<use href="#s" x="897.2" y="702.9"/>
<use href="#s" x="897.2" y="905.0"/>
<use href="#s" x="897.2" y="908.2"/>
<use href="#s" x="897.2" y="911.5"/>
<use href="#s" x="900.5" y="367.2"/>
<use href="#s" x="900.5" y="699.7"/>
<use href="#s" x="900.5" y="702.9"/>
<use href="#s" x="900.5" y="706.2"/>
<use href="#s" x="900.5" y="905.0"/>
<use href="#s" x="900.5" y="908.2"/>
<use href="#s" x="900.5" y="911.5"/>
<use href="#s" x="900.5" y="914.8"/>
<use href="#s" x="903.7" y="435.7"/>
<use href="#s" x="903.7" y="699.7"/>
<use href="#s" x="903.7" y="702.9"/>
<use href="#s" x="903.7" y="706.2"/>
<use href="#s" x="903.7" y="709.4"/>
<use href="#s" x="903.7" y="716.0"/>
<use href="#s" x="903.7" y="911.5"/>
<use href="#s" x="903.7" y="914.8"/>
<use href="#s" x="903.7" y="921.3"/>
<use href="#s" x="903.7" y="924.5"/>
<use href="#s" x="903.7" y="927.8"/>
<use href="#s" x="907.0" y="706.2"/>
<use href="#s" x="907.0" y="709.4"/>
<use href="#s" x="907.0" y="716.0"/>
<use href="#s" x="907.0" y="924.5"/>
<use href="#s" x="907.0" y="927.8"/>
<use href="#s" x="907.0" y="1250.4"/>
<use href="#s" x="907.0" y="1253.7"/>
<use href="#s" x="910.2" y="364.0"/>
<use href="#s" x="910.2" y="367.2"/>
<use href="#s" x="910.2" y="706.2"/>
<use href="#s" x="910.2" y="709.4"/>
<use href="#s" x="910.2" y="911.5"/>
<use href="#s" x="910.2" y="924.5"/>
<use href="#s" x="910.2" y="927.8"/>
<use href="#s" x="913.5" y="706.2"/>
<use href="#s" x="913.5" y="709.4"/>
<use href="#s" x="913.5" y="911.5"/>
<use href="#s" x="913.5" y="924.5"/>
<use href="#s" x="913.5" y="927.8"/>
<use href="#s" x="913.5" y="1136.4"/>
<use href="#s" x="913.5" y="1146.1"/>
<use href="#s" x="913.5" y="1149.4"/>
<use href="#s" x="916.8" y="706.2"/>
<use href="#s" x="916.8" y="709.4"/>
<use href="#s" x="916.8" y="911.5"/>
<use href="#s" x="916.8" y="924.5"/>
<use href="#s" x="916.8" y="927.8"/>
<use href="#s" x="916.8" y="1136.4"/>
<use href="#s" x="916.8" y="1146.1"/>
<use href="#s" x="916.8" y="1149.4"/>
<use href="#s" x="916.8" y="1159.2"/>
<use href="#s" x="916.8" y="1247.2"/>
<use href="#s" x="916.8" y="1250.4"/>
<use href="#s" x="916.8" y="1253.7"/>
<use href="#s" x="920.0" y="706.2"/>
<use href="#s" x="920.0" y="709.4"/>
<use href="#s" x="920.0" y="732.2"/>
<use href="#s" x="920.0" y="1149.4"/>
<use href="#s" x="920.0" y="1247.2"/>
<use href="#s" x="920.0" y="1250.4"/>
<use href="#s" x="923.3" y="706.2"/>
<use href="#s" x="923.3" y="709.4"/>
<use href="#s" x="923.3" y="1149.4"/>
<use href="#s" x="923.3" y="1247.2"/>
<use href="#s" x="926.5" y="1136.4"/>
<use href="#s" x="926.5" y="1139.6"/>
<use href="#s" x="926.5" y="1149.4"/>
<use href="#s" x="926.5" y="1152.7"/>
<use href="#s" x="929.8" y="706.2"/>
<use href="#s" x="929.8" y="709.4"/>
<use href="#s" x="929.8" y="1136.4"/>
<use href="#s" x="929.8" y="1139.6"/>
<use href="#s" x="933.1" y="706.2"/>
<use href="#s" x="933.1" y="709.4"/>
<use href="#s" x="933.1" y="1126.6"/>
<use href="#s" x="933.1" y="1136.4"/>
<use href="#s" x="936.3" y="364.0"/>
<use href="#s" x="936.3" y="373.8"/>
<use href="#s" x="942.8" y="702.9"/>
<use href="#s" x="942.8" y="706.2"/>
<use href="#s" x="942.8" y="709.4"/>
<use href="#s" x="946.1" y="364.0"/>
<use href="#s" x="946.1" y="367.2"/>
<use href="#s" x="946.1" y="373.8"/>
<use href="#s" x="946.1" y="702.9"/>
<use href="#s" x="946.1" y="706.2"/>
<use href="#s" x="946.1" y="709.4"/>
<use href="#s" x="949.4" y="742.0"/>
<use href="#s" x="949.4" y="751.8"/>
<use href="#s" x="952.6" y="696.4"/>
<use href="#s" x="952.6" y="702.9"/>
<use href="#s" x="952.6" y="706.2"/>
<use href="#s" x="952.6" y="735.5"/>
<use href="#s" x="952.6" y="742.0"/>
<use href="#s" x="952.6" y="751.8"/>
<use href="#s" x="955.9" y="367.2"/>
<use href="#s" x="955.9" y="370.5"/>
<use href="#s" x="955.9" y="373.8"/>
<use href="#s" x="955.9" y="702.9"/>
<use href="#s" x="955.9" y="706.2"/>
<use href="#s" x="959.1" y="370.5"/>
<use href="#s" x="959.1" y="373.8"/>
<use href="#s" x="959.1" y="383.5"/>
<use href="#s" x="962.4" y="742.0"/>
<use href="#s" x="962.4" y="751.8"/>
<use href="#s" x="962.4" y="755.1"/>
<use href="#s" x="962.4" y="764.8"/>
<use href="#s" x="965.6" y="764.8"/>
<use href="#s" x="965.6" y="774.6"/>
<use href="#s" x="965.6" y="797.4"/>
<use href="#s" x="965.6" y="973.4"/>
<use href="#s" x="968.9" y="370.5"/>
<use href="#s" x="968.9" y="373.8"/>
<use href="#s" x="968.9" y="383.5"/>
<use href="#s" x="968.9" y="386.8"/>
<use href="#s" x="968.9" y="390.1"/>
<use href="#s" x="968.9" y="973.4"/>
<use href="#s" x="972.2" y="373.8"/>
<use href="#s" x="972.2" y="383.5"/>
<use href="#s" x="972.2" y="386.8"/>
<use href="#s" x="975.4" y="764.8"/>
<use href="#s" x="975.4" y="774.6"/>
<use href="#s" x="975.4" y="777.9"/>
<use href="#s" x="978.7" y="774.6"/>
<use href="#s" x="978.7" y="777.9"/>
<use href="#s" x="981.9" y="764.8"/>
<use href="#s" x="981.9" y="774.6"/>
<use href="#s" x="981.9" y="777.9"/>
<use href="#s" x="981.9" y="787.7"/>
<use href="#s" x="981.9" y="794.2"/>
<use href="#s" x="981.9" y="797.4"/>
<use href="#s" x="981.9" y="973.4"/>
<use href="#s" x="985.2" y="794.2"/>
<use href="#s" x="985.2" y="797.4"/>
<use href="#s" x="985.2" y="973.4"/>
<use href="#s" x="985.2" y="976.7"/>
<use href="#s" x="985.2" y="979.9"/>
<use href="#s" x="985.2" y="993.0"/>
<use href="#s" x="988.5" y="794.2"/>
<use href="#s" x="988.5" y="797.4"/>
<use href="#s" x="988.5" y="800.7"/>
<use href="#s" x="988.5" y="803.9"/>
<use href="#s" x="991.7" y="458.5"/>
<use href="#s" x="991.7" y="468.3"/>
<use href="#s" x="991.7" y="471.5"/>
<use href="#s" x="991.7" y="794.2"/>
<use href="#s" x="991.7" y="797.4"/>
<use href="#s" x="991.7" y="800.7"/>
<use href="#s" x="991.7" y="803.9"/>
<use href="#s" x="995.0" y="367.2"/>
<use href="#s" x="995.0" y="702.9"/>
<use href="#s" x="995.0" y="797.4"/>
<use href="#s" x="995.0" y="800.7"/>
<use href="#s" x="995.0" y="803.9"/>
<use href="#s" x="995.0" y="807.2"/>
<use href="#s" x="995.0" y="810.5"/>
<use href="#s" x="998.2" y="425.9"/>
<use href="#s" x="998.2" y="435.7"/>
<use href="#s" x="998.2" y="438.9"/>
<use href="#s" x="998.2" y="442.2"/>
<use href="#s" x="998.2" y="445.5"/>
<use href="#s" x="998.2" y="458.5"/>
<use href="#s" x="998.2" y="800.7"/>
<use href="#s" x="998.2" y="803.9"/>
<use href="#s" x="998.2" y="807.2"/>
<use href="#s" x="998.2" y="810.5"/>
<use href="#s" x="1001.5" y="354.2"/>
<use href="#s" x="1001.5" y="364.0"/>
<use href="#s" x="1001.5" y="367.2"/>
<use href="#s" x="1001.5" y="435.7"/>
<use href="#s" x="1001.5" y="438.9"/>
<use href="#s" x="1001.5" y="442.2"/>
<use href="#s" x="1001.5" y="445.5"/>
<use href="#s" x="1001.5" y="803.9"/>
<use href="#s" x="1001.5" y="807.2"/>
<use href="#s" x="1001.5" y="810.5"/>
<use href="#s" x="1001.5" y="813.7"/>
<use href="#s" x="1001.5" y="820.2"/>
<use href="#s" x="1001.5" y="823.5"/>
<use href="#s" x="1001.5" y="826.8"/>
<use href="#s" x="1004.8" y="432.4"/>
<use href="#s" x="1004.8" y="435.7"/>
<use href="#s" x="1004.8" y="438.9"/>
<use href="#s" x="1004.8" y="442.2"/>
<use href="#s" x="1004.8" y="445.5"/>
<use href="#s" x="1004.8" y="810.5"/>
<use href="#s" x="1004.8" y="813.7"/>
<use href="#s" x="1008.0" y="354.2"/>
<use href="#s" x="1008.0" y="432.4"/>
<use href="#s" x="1008.0" y="435.7"/>
<use href="#s" x="1008.0" y="1067.9"/>
<use href="#s" x="1008.0" y="1081.0"/>
<use href="#s" x="1011.3" y="432.4"/>
<use href="#s" x="1011.3" y="435.7"/>
<use href="#s" x="1011.3" y="813.7"/>
<use href="#s" x="1014.5" y="207.6"/>
<use href="#s" x="1014.5" y="210.8"/>
<use href="#s" x="1014.5" y="214.1"/>
<use href="#s" x="1014.5" y="813.7"/>
<use href="#s" x="1014.5" y="817.0"/>
<use href="#s" x="1014.5" y="820.2"/>
<use href="#s" x="1014.5" y="823.5"/>
<use href="#s" x="1014.5" y="826.8"/>
<use href="#s" x="1014.5" y="1253.7"/>
<use href="#s" x="1017.8" y="813.7"/>
<use href="#s" x="1017.8" y="817.0"/>
<use href="#s" x="1017.8" y="820.2"/>
<use href="#s" x="1017.8" y="823.5"/>
<use href="#s" x="1017.8" y="826.8"/>
<use href="#s" x="1017.8" y="1136.4"/>
<use href="#s" x="1021.0" y="246.7"/>
<use href="#s" x="1021.0" y="256.4"/>
<use href="#s" x="1021.0" y="1077.7"/>
<use href="#s" x="1021.0" y="1090.7"/>
<use href="#s" x="1021.0" y="1123.3"/>
<use href="#s" x="1024.3" y="214.1"/>
<use href="#s" x="1024.3" y="240.1"/>
<use href="#s" x="1024.3" y="243.4"/>
<use href="#s" x="1024.3" y="246.7"/>
<use href="#s" x="1024.3" y="256.4"/>
<use href="#s" x="1027.6" y="256.4"/>
<use href="#s" x="1027.6" y="1067.9"/>
<use href="#s" x="1027.6" y="1077.7"/>
<use href="#s" x="1030.8" y="210.8"/>
<use href="#s" x="1030.8" y="1081.0"/>
<use href="#s" x="1037.3" y="1058.1"/>
<use href="#s" x="1037.3" y="1064.7"/>
<use href="#s" x="1037.3" y="1071.2"/>
<use href="#s" x="1037.3" y="1077.7"/>
<use href="#s" x="1037.3" y="1081.0"/>
<use href="#s" x="1040.6" y="429.2"/>
<use href="#s" x="1040.6" y="432.4"/>
<use href="#s" x="1040.6" y="435.7"/>
<use href="#s" x="1040.6" y="1058.1"/>
<use href="#s" x="1040.6" y="1067.9"/>
<use href="#s" x="1040.6" y="1071.2"/>
<use href="#s" x="1040.6" y="1081.0"/>
<use href="#s" x="1043.9" y="341.2"/>
<use href="#s" x="1043.9" y="422.6"/>
<use href="#s" x="1043.9" y="425.9"/>
<use href="#s" x="1043.9" y="429.2"/>
<use href="#s" x="1043.9" y="432.4"/>
<use href="#s" x="1043.9" y="435.7"/>
<use href="#s" x="1043.9" y="1058.1"/>
<use href="#s" x="1043.9" y="1064.7"/>
<use href="#s" x="1043.9" y="1067.9"/>
<use href="#s" x="1043.9" y="1077.7"/>
<use href="#s" x="1043.9" y="1081.0"/>
<use href="#s" x="1047.1" y="354.2"/>
<use href="#s" x="1047.1" y="422.6"/>
<use href="#s" x="1047.1" y="425.9"/>
<use href="#s" x="1047.1" y="429.2"/>
<use href="#s" x="1047.1" y="432.4"/>
<use href="#s" x="1047.1" y="435.7"/>
<use href="#s" x="1047.1" y="442.2"/>
<use href="#s" x="1047.1" y="445.5"/>
<use href="#s" x="1050.4" y="341.2"/>
<use href="#s" x="1050.4" y="344.4"/>
<use href="#s" x="1050.4" y="354.2"/>
<use href="#s" x="1050.4" y="416.1"/>
<use href="#s" x="1050.4" y="422.6"/>
<use href="#s" x="1050.4" y="425.9"/>
<use href="#s" x="1050.4" y="429.2"/>
<use href="#s" x="1050.4" y="432.4"/>
<use href="#s" x="1050.4" y="435.7"/>
<use href="#s" x="1050.4" y="442.2"/>
<use href="#s" x="1050.4" y="445.5"/>
<use href="#s" x="1053.6" y="422.6"/>
<use href="#s" x="1053.6" y="425.9"/>
<use href="#s" x="1053.6" y="429.2"/>
<use href="#s" x="1053.6" y="432.4"/>
<use href="#s" x="1053.6" y="435.7"/>
<use href="#s" x="1053.6" y="442.2"/>
<use href="#s" x="1053.6" y="445.5"/>
<use href="#s" x="1053.6" y="455.2"/>
<use href="#s" x="1053.6" y="458.5"/>
<use href="#s" x="1056.9" y="354.2"/>
<use href="#s" x="1056.9" y="357.5"/>
<use href="#s" x="1056.9" y="367.2"/>
<use href="#s" x="1056.9" y="370.5"/>
<use href="#s" x="1056.9" y="409.6"/>
<use href="#s" x="1063.4" y="370.5"/>
<use href="#s" x="1063.4" y="390.1"/>
<use href="#s" x="1063.4" y="875.6"/>
<use href="#s" x="1063.4" y="878.9"/>
<use href="#s" x="1063.4" y="891.9"/>
<use href="#s" x="1063.4" y="895.2"/>
<use href="#s" x="1066.7" y="390.1"/>
<use href="#s" x="1066.7" y="895.2"/>
<use href="#s" x="1069.9" y="406.3"/>
<use href="#s" x="1069.9" y="409.6"/>
<use href="#s" x="1069.9" y="895.2"/>
<use href="#s" x="1073.2" y="399.8"/>
<use href="#s" x="1073.2" y="403.1"/>
<use href="#s" x="1073.2" y="406.3"/>
<use href="#s" x="1073.2" y="409.6"/>
<use href="#s" x="1073.2" y="412.9"/>
<use href="#s" x="1076.5" y="399.8"/>
<use href="#s" x="1076.5" y="403.1"/>
<use href="#s" x="1076.5" y="406.3"/>
<use href="#s" x="1076.5" y="409.6"/>
<use href="#s" x="1076.5" y="412.9"/>
<use href="#s" x="1083.0" y="403.1"/>
<use href="#s" x="1083.0" y="406.3"/>
<use href="#s" x="1083.0" y="409.6"/>
<use href="#s" x="1083.0" y="412.9"/>
<use href="#s" x="1083.0" y="895.2"/>
<use href="#s" x="1086.2" y="403.1"/>
<use href="#s" x="1086.2" y="406.3"/>
<use href="#s" x="1086.2" y="409.6"/>
<use href="#s" x="1086.2" y="412.9"/>
<use href="#s" x="1089.5" y="412.9"/>
<use href="#s" x="1096.0" y="412.9"/>
<use href="#s" x="1096.0" y="468.3"/>
<use href="#s" x="1099.3" y="324.9"/>
<use href="#s" x="1099.3" y="412.9"/>
<use href="#s" x="1099.3" y="416.1"/>
<use href="#s" x="1099.3" y="419.4"/>
<use href="#s" x="1105.8" y="468.3"/>
<use href="#s" x="1105.8" y="478.0"/>
<use href="#s" x="1105.8" y="481.3"/>
<use href="#s" x="1109.0" y="324.9"/>
<use href="#s" x="1109.0" y="419.4"/>
<use href="#s" x="1109.0" y="455.2"/>
<use href="#s" x="1109.0" y="458.5"/>
<use href="#s" x="1109.0" y="468.3"/>
<use href="#s" x="1112.3" y="321.6"/>
<use href="#s" x="1112.3" y="324.9"/>
<use href="#s" x="1112.3" y="419.4"/>
<use href="#s" x="1118.8" y="455.2"/>
<use href="#s" x="1118.8" y="458.5"/>
<use href="#s" x="1118.8" y="468.3"/>
<use href="#s" x="1118.8" y="478.0"/>
<use href="#s" x="1122.1" y="321.6"/>
<use href="#s" x="1122.1" y="324.9"/>
<use href="#s" x="1122.1" y="419.4"/>
<use href="#s" x="1122.1" y="425.9"/>
<use href="#s" x="1122.1" y="455.2"/>
<use href="#s" x="1122.1" y="465.0"/>
<use href="#s" x="1125.3" y="321.6"/>
<use href="#s" x="1131.9" y="452.0"/>
<use href="#s" x="1131.9" y="465.0"/>
<use href="#s" x="1135.1" y="425.9"/>
<use href="#s" x="1135.1" y="429.2"/>
<use href="#s" x="1138.4" y="311.8"/>
<use href="#s" x="1138.4" y="315.1"/>
<use href="#s" x="1138.4" y="318.4"/>
<use href="#s" x="1138.4" y="321.6"/>
<use href="#s" x="1141.6" y="311.8"/>
<use href="#s" x="1141.6" y="315.1"/>
<use href="#s" x="1141.6" y="318.4"/>
<use href="#s" x="1141.6" y="321.6"/>
<use href="#s" x="1141.6" y="328.1"/>
<use href="#s" x="1144.9" y="315.1"/>
<use href="#s" x="1144.9" y="318.4"/>
<use href="#s" x="1144.9" y="321.6"/>
<use href="#s" x="1144.9" y="328.1"/>
<use href="#s" x="1144.9" y="331.4"/>
<use href="#s" x="1144.9" y="422.6"/>
<use href="#s" x="1144.9" y="425.9"/>
<use href="#s" x="1144.9" y="429.2"/>
<use href="#s" x="1148.1" y="422.6"/>
<use href="#s" x="1148.1" y="425.9"/>
<use href="#s" x="1148.1" y="429.2"/>
<use href="#s" x="1148.1" y="947.3"/>
<use href="#s" x="1148.1" y="950.6"/>
<use href="#s" x="1148.1" y="953.9"/>
<use href="#s" x="1151.4" y="298.8"/>
<use href="#s" x="1151.4" y="315.1"/>
<use href="#s" x="1151.4" y="321.6"/>
<use href="#s" x="1151.4" y="328.1"/>
<use href="#s" x="1151.4" y="331.4"/>
<use href="#s" x="1154.7" y="279.2"/>
<use href="#s" x="1154.7" y="947.3"/>
<use href="#s" x="1154.7" y="953.9"/>
<use href="#s" x="1157.9" y="918.0"/>
<use href="#s" x="1157.9" y="937.6"/>
<use href="#s" x="1157.9" y="950.6"/>
<use href="#s" x="1157.9" y="953.9"/>
<use href="#s" x="1161.2" y="315.1"/>
<use href="#s" x="1161.2" y="321.6"/>
<use href="#s" x="1161.2" y="328.1"/>
<use href="#s" x="1161.2" y="331.4"/>
<use href="#s" x="1161.2" y="341.2"/>
<use href="#s" x="1161.2" y="422.6"/>
<use href="#s" x="1161.2" y="947.3"/>
<use href="#s" x="1161.2" y="950.6"/>
<use href="#s" x="1164.4" y="266.2"/>
<use href="#s" x="1164.4" y="269.5"/>
<use href="#s" x="1164.4" y="279.2"/>
<use href="#s" x="1164.4" y="298.8"/>
<use href="#s" x="1167.7" y="256.4"/>
<use href="#s" x="1167.7" y="266.2"/>
<use href="#s" x="1167.7" y="269.5"/>
<use href="#s" x="1167.7" y="279.2"/>
<use href="#s" x="1167.7" y="931.0"/>
<use href="#s" x="1167.7" y="937.6"/>
<use href="#s" x="1167.7" y="947.3"/>
<use href="#s" x="1167.7" y="953.9"/>
<use href="#s" x="1171.0" y="354.2"/>
<use href="#s" x="1171.0" y="918.0"/>
<use href="#s" x="1171.0" y="940.8"/>
<use href="#s" x="1171.0" y="947.3"/>
<use href="#s" x="1171.0" y="950.6"/>
<use href="#s" x="1171.0" y="953.9"/>
<use href="#s" x="1174.2" y="331.4"/>
<use href="#s" x="1174.2" y="354.2"/>
<use href="#s" x="1177.5" y="266.2"/>
<use href="#s" x="1177.5" y="276.0"/>
<use href="#s" x="1177.5" y="279.2"/>
<use href="#s" x="1180.7" y="253.2"/>
<use href="#s" x="1180.7" y="256.4"/>
<use href="#s" x="1180.7" y="266.2"/>
<use href="#s" x="1180.7" y="931.0"/>
<use href="#s" x="1184.0" y="354.2"/>
<use href="#s" x="1184.0" y="360.7"/>
<use href="#s" x="1184.0" y="364.0"/>
<use href="#s" x="1187.3" y="266.2"/>
<use href="#s" x="1187.3" y="337.9"/>
<use href="#s" x="1187.3" y="350.9"/>
<use href="#s" x="1190.5" y="253.2"/>
<use href="#s" x="1200.3" y="253.2"/>
<use href="#s" x="1200.3" y="263.0"/>
<use href="#s" x="1200.3" y="266.2"/>
<use href="#s" x="1210.1" y="249.9"/>
<use href="#s" x="1210.1" y="253.2"/>
<use href="#s" x="1210.1" y="256.4"/>
<use href="#s" x="1210.1" y="263.0"/>
<use href="#s" x="1213.3" y="246.7"/>
<use href="#s" x="1213.3" y="249.9"/>
<use href="#s" x="1213.3" y="253.2"/>
<use href="#s" x="1213.3" y="256.4"/>
<use href="#s" x="1213.3" y="931.0"/>
<use href="#s" x="1216.6" y="843.1"/>
<use href="#s" x="1223.1" y="246.7"/>
<use href="#s" x="1223.1" y="249.9"/>
<use href="#s" x="1223.1" y="253.2"/>
<use href="#s" x="1226.4" y="823.5"/>
<use href="#s" x="1226.4" y="826.8"/>
<use href="#s" x="1226.4" y="836.5"/>
<use href="#s" x="1226.4" y="839.8"/>
<use href="#s" x="1226.4" y="843.1"/>
<use href="#s" x="1226.4" y="927.8"/>
<use href="#s" x="1229.6" y="836.5"/>
<use href="#s" x="1229.6" y="839.8"/>
<use href="#s" x="1236.1" y="214.1"/>
<use href="#s" x="1236.1" y="240.1"/>
<use href="#s" x="1236.1" y="823.5"/>
<use href="#s" x="1236.1" y="826.8"/>
<use href="#s" x="1236.1" y="1354.7"/>
<use href="#s" x="1239.4" y="823.5"/>
<use href="#s" x="1239.4" y="826.8"/>
<use href="#s" x="1239.4" y="830.0"/>
<use href="#s" x="1239.4" y="833.3"/>
<use href="#s" x="1239.4" y="836.5"/>
<use href="#s" x="1239.4" y="1250.4"/>
<use href="#s" x="1242.7" y="836.5"/>
<use href="#s" x="1245.9" y="220.6"/>
<use href="#s" x="1245.9" y="223.8"/>
<use href="#s" x="1245.9" y="1354.7"/>
<use href="#s" x="1249.2" y="826.8"/>
<use href="#s" x="1249.2" y="1250.4"/>
<use href="#s" x="1249.2" y="1253.7"/>
<use href="#s" x="1249.2" y="1351.5"/>
<use href="#s" x="1249.2" y="1354.7"/>
<use href="#s" x="1259.0" y="1351.5"/>
<use href="#s" x="1259.0" y="1354.7"/>
<use href="#s" x="1259.0" y="1358.0"/>
<use href="#s" x="1259.0" y="1361.2"/>
<use href="#s" x="1259.0" y="1364.5"/>
<use href="#s" x="1259.0" y="1377.5"/>
<use href="#s" x="1262.2" y="1260.2"/>
<use href="#s" x="1262.2" y="1351.5"/>
<use href="#s" x="1262.2" y="1354.7"/>
<use href="#s" x="1262.2" y="1358.0"/>
<use href="#s" x="1262.2" y="1361.2"/>
<use href="#s" x="1262.2" y="1364.5"/>
<use href="#s" x="1268.7" y="1361.2"/>
<use href="#s" x="1268.7" y="1367.8"/>
<use href="#s" x="1268.7" y="1377.5"/>
<use href="#s" x="1272.0" y="1351.5"/>
<use href="#s" x="1272.0" y="1361.2"/>
<use href="#s" x="1272.0" y="1367.8"/>
<use href="#s" x="1272.0" y="1377.5"/>
<use href="#s" x="1272.0" y="1380.8"/>
<use href="#s" x="1272.0" y="1387.3"/>
<use href="#s" x="1272.0" y="1390.6"/>
<use href="#s" x="1278.5" y="1387.3"/>
<use href="#s" x="1278.5" y="1390.6"/>
<use href="#s" x="1281.8" y="1377.5"/>
<use href="#s" x="1281.8" y="1380.8"/>
<use href="#s" x="1281.8" y="1387.3"/>
<use href="#s" x="1281.8" y="1390.6"/>
<use href="#s" x="1281.8" y="1393.8"/>
<use href="#s" x="1281.8" y="1400.3"/>
<use href="#s" x="1281.8" y="1403.6"/>
<use href="#s" x="1285.0" y="1390.6"/>
<use href="#s" x="1285.0" y="1393.8"/>
<use href="#s" x="1285.0" y="1400.3"/>
<use href="#s" x="1285.0" y="1403.6"/>
<use href="#s" x="1294.8" y="1390.6"/>
<use href="#s" x="1294.8" y="1393.8"/>
<use href="#s" x="1294.8" y="1400.3"/>
<use href="#s" x="1294.8" y="1403.6"/>
<use href="#s" x="1298.1" y="1400.3"/>
<use href="#s" x="1298.1" y="1403.6"/>
<use href="#s" x="1301.3" y="1390.6"/>
<use href="#s" x="1301.3" y="1400.3"/>
<use href="#s" x="1301.3" y="1403.6"/>
<use href="#s" x="1301.3" y="1413.4"/>
<use href="#s" x="1301.3" y="1416.6"/>
<use href="#s" x="1304.6" y="1413.4"/>
<use href="#s" x="1304.6" y="1416.6"/>
<use href="#s" x="1307.8" y="1413.4"/>
<use href="#s" x="1320.9" y="624.7"/>
<use href="#s" x="1320.9" y="628.0"/>
<use href="#s" x="1330.7" y="624.7"/>
<use href="#s" x="1330.7" y="628.0"/>
<use href="#s" x="1330.7" y="729.0"/>
<use href="#s" x="1333.9" y="722.5"/>
<use href="#s" x="1333.9" y="725.7"/>
<use href="#s" x="1333.9" y="729.0"/>
<use href="#s" x="1337.2" y="706.2"/>
<use href="#s" x="1337.2" y="709.4"/>
<use href="#s" x="1337.2" y="716.0"/>
<use href="#s" x="1337.2" y="722.5"/>
<use href="#s" x="1337.2" y="725.7"/>
<use href="#s" x="1337.2" y="729.0"/>
<use href="#s" x="1337.2" y="732.2"/>
<use href="#s" x="1337.2" y="826.8"/>
<use href="#s" x="1337.2" y="830.0"/>
<use href="#s" x="1337.2" y="833.3"/>
<use href="#s" x="1340.4" y="706.2"/>
<use href="#s" x="1340.4" y="709.4"/>
<use href="#s" x="1340.4" y="716.0"/>
<use href="#s" x="1340.4" y="722.5"/>
<use href="#s" x="1340.4" y="725.7"/>
<use href="#s" x="1340.4" y="729.0"/>
<use href="#s" x="1340.4" y="817.0"/>
<use href="#s" x="1340.4" y="826.8"/>
<use href="#s" x="1340.4" y="830.0"/>
<use href="#s" x="1340.4" y="1149.4"/>
<use href="#s" x="1340.4" y="1159.2"/>
<use href="#s" x="1340.4" y="1351.5"/>
<use href="#s" x="1343.7" y="207.6"/>
<use href="#s" x="1343.7" y="210.8"/>
<use href="#s" x="1343.7" y="214.1"/>
<use href="#s" x="1343.7" y="709.4"/>
<use href="#s" x="1343.7" y="716.0"/>
<use href="#s" x="1343.7" y="817.0"/>
<use href="#s" x="1343.7" y="826.8"/>
<use href="#s" x="1343.7" y="924.5"/>
<use href="#s" x="1343.7" y="1159.2"/>
<use href="#s" x="1343.7" y="1344.9"/>
<use href="#s" x="1343.7" y="1348.2"/>
<use href="#s" x="1343.7" y="1351.5"/>
<use href="#s" x="1343.7" y="1354.7"/>
<use href="#s" x="1346.9" y="207.6"/>
<use href="#s" x="1346.9" y="210.8"/>
<use href="#s" x="1346.9" y="709.4"/>
<use href="#s" x="1346.9" y="716.0"/>
<use href="#s" x="1346.9" y="719.2"/>
<use href="#s" x="1346.9" y="722.5"/>
<use href="#s" x="1346.9" y="725.7"/>
<use href="#s" x="1346.9" y="729.0"/>
<use href="#s" x="1346.9" y="1341.7"/>
<use href="#s" x="1346.9" y="1344.9"/>
<use href="#s" x="1346.9" y="1348.2"/>
<use href="#s" x="1346.9" y="1351.5"/>
<use href="#s" x="1350.2" y="719.2"/>
<use href="#s" x="1350.2" y="722.5"/>
<use href="#s" x="1350.2" y="725.7"/>
<use href="#s" x="1350.2" y="729.0"/>
<use href="#s" x="1350.2" y="1172.2"/>
<use href="#s" x="1350.2" y="1341.7"/>
<use href="#s" x="1350.2" y="1344.9"/>
<use href="#s" x="1350.2" y="1348.2"/>
<use href="#s" x="1350.2" y="1351.5"/>
<use href="#s" x="1353.5" y="608.4"/>
<use href="#s" x="1353.5" y="624.7"/>
<use href="#s" x="1353.5" y="719.2"/>
<use href="#s" x="1353.5" y="722.5"/>
<use href="#s" x="1353.5" y="725.7"/>
<use href="#s" x="1353.5" y="729.0"/>
<use href="#s" x="1353.5" y="1341.7"/>
<use href="#s" x="1353.5" y="1344.9"/>
<use href="#s" x="1356.7" y="1344.9"/>
<use href="#s" x="1356.7" y="1400.3"/>
<use href="#s" x="1360.0" y="614.9"/>
<use href="#s" x="1360.0" y="624.7"/>
<use href="#s" x="1363.2" y="1400.3"/>
<use href="#s" x="1363.2" y="1410.1"/>
<use href="#s" x="1363.2" y="1413.4"/>
<use href="#s" x="1366.5" y="1423.2"/>
<use href="#s" x="1373.0" y="1423.2"/>
<use href="#s" x="1376.3" y="1400.3"/>
<use href="#s" x="1376.3" y="1410.1"/>
<use href="#s" x="1376.3" y="1413.4"/>
<use href="#s" x="1376.3" y="1423.2"/>
<use href="#s" x="1379.5" y="1400.3"/>
<use href="#s" x="1386.1" y="1400.3"/>
<use href="#s" x="1386.1" y="1406.9"/>
<use href="#s" x="1386.1" y="1410.1"/>
<use href="#s" x="1386.1" y="1419.9"/>
<use href="#s" x="1386.1" y="1423.2"/>
<use href="#s" x="1389.3" y="1397.1"/>
<use href="#s" x="1389.3" y="1400.3"/>
<use href="#s" x="1389.3" y="1406.9"/>
<use href="#s" x="1389.3" y="1410.1"/>
<use href="#s" x="1392.6" y="158.7"/>
<use href="#s" x="1399.1" y="1397.1"/>
<use href="#s" x="1399.1" y="1406.9"/>
<use href="#s" x="1399.1" y="1410.1"/>
<use href="#s" x="1402.4" y="184.7"/>
<use href="#s" x="1402.4" y="188.0"/>
<use href="#s" x="1402.4" y="191.3"/>
<use href="#s" x="1402.4" y="1397.1"/>
<use href="#s" x="1402.4" y="1406.9"/>
<use href="#s" x="1402.4" y="1410.1"/>
<use href="#s" x="1405.6" y="171.7"/>
<use href="#s" x="1405.6" y="184.7"/>
<use href="#s" x="1405.6" y="188.0"/>
<use href="#s" x="1405.6" y="191.3"/>
<use href="#s" x="1408.9" y="171.7"/>
<use href="#s" x="1408.9" y="184.7"/>
<use href="#s" x="1408.9" y="188.0"/>
<use href="#s" x="1408.9" y="191.3"/>
<use href="#s" x="1408.9" y="194.5"/>
<use href="#s" x="1408.9" y="197.8"/>
<use href="#s" x="1408.9" y="1397.1"/>
<use href="#s" x="1412.1" y="148.9"/>
<use href="#s" x="1412.1" y="152.1"/>
<use href="#s" x="1412.1" y="171.7"/>
<use href="#s" x="1412.1" y="184.7"/>
<use href="#s" x="1412.1" y="188.0"/>
<use href="#s" x="1412.1" y="191.3"/>
<use href="#s" x="1412.1" y="194.5"/>
<use href="#s" x="1412.1" y="197.8"/>
<use href="#s" x="1412.1" y="201.0"/>
<use href="#s" x="1415.4" y="148.9"/>
<use href="#s" x="1415.4" y="152.1"/>
<use href="#s" x="1415.4" y="194.5"/>
<use href="#s" x="1415.4" y="197.8"/>
<use href="#s" x="1415.4" y="201.0"/>
<use href="#s" x="1418.6" y="135.9"/>
<use href="#s" x="1418.6" y="139.1"/>
<use href="#s" x="1418.6" y="148.9"/>
<use href="#s" x="1418.6" y="152.1"/>
<use href="#s" x="1418.6" y="194.5"/>
<use href="#s" x="1418.6" y="197.8"/>
<use href="#s" x="1418.6" y="201.0"/>
<use href="#s" x="1418.6" y="719.2"/>
<use href="#s" x="1421.9" y="135.9"/>
<use href="#s" x="1425.2" y="194.5"/>
<use href="#s" x="1425.2" y="197.8"/>
<use href="#s" x="1425.2" y="201.0"/>
<use href="#s" x="1425.2" y="533.5"/>
<use href="#s" x="1425.2" y="719.2"/>
<use href="#s" x="1428.4" y="194.5"/>
<use href="#s" x="1428.4" y="197.8"/>
<use href="#s" x="1428.4" y="201.0"/>
<use href="#s" x="1431.7" y="194.5"/>
<use href="#s" x="1431.7" y="197.8"/>
<use href="#s" x="1431.7" y="201.0"/>
<use href="#s" x="1431.7" y="719.2"/>
<use href="#s" x="1431.7" y="1256.9"/>
<use href="#s" x="1431.7" y="1260.2"/>
<use href="#s" x="1431.7" y="1263.5"/>
<use href="#s" x="1434.9" y="194.5"/>
<use href="#s" x="1434.9" y="197.8"/>
<use href="#s" x="1434.9" y="201.0"/>
<use href="#s" x="1434.9" y="1253.7"/>
<use href="#s" x="1434.9" y="1256.9"/>
<use href="#s" x="1434.9" y="1260.2"/>
<use href="#s" x="1434.9" y="1263.5"/>
<use href="#s" x="1434.9" y="1266.7"/>
<use href="#s" x="1438.2" y="194.5"/>
<use href="#s" x="1438.2" y="197.8"/>
<use href="#s" x="1438.2" y="201.0"/>
<use href="#s" x="1438.2" y="204.3"/>
<use href="#s" x="1438.2" y="207.6"/>
<use href="#s" x="1438.2" y="210.8"/>
<use href="#s" x="1438.2" y="1253.7"/>
<use href="#s" x="1438.2" y="1256.9"/>
<use href="#s" x="1438.2" y="1260.2"/>
<use href="#s" x="1441.5" y="194.5"/>
<use href="#s" x="1441.5" y="197.8"/>
<use href="#s" x="1441.5" y="201.0"/>
<use href="#s" x="1441.5" y="204.3"/>
<use href="#s" x="1441.5" y="207.6"/>
<use href="#s" x="1441.5" y="210.8"/>
<use href="#s" x="1441.5" y="1159.2"/>
<use href="#s" x="1441.5" y="1169.0"/>
<use href="#s" x="1441.5" y="1172.2"/>
<use href="#s" x="1441.5" y="1182.0"/>
<use href="#s" x="1441.5" y="1250.4"/>
<use href="#s" x="1441.5" y="1253.7"/>
<use href="#s" x="1441.5" y="1256.9"/>
<use href="#s" x="1441.5" y="1260.2"/>
<use href="#s" x="1444.7" y="207.6"/>
<use href="#s" x="1444.7" y="210.8"/>
<use href="#s" x="1444.7" y="214.1"/>
<use href="#s" x="1444.7" y="217.3"/>
<use href="#s" x="1444.7" y="1146.1"/>
<use href="#s" x="1444.7" y="1155.9"/>
<use href="#s" x="1444.7" y="1159.2"/>
<use href="#s" x="1444.7" y="1169.0"/>
<use href="#s" x="1444.7" y="1172.2"/>
<use href="#s" x="1444.7" y="1253.7"/>
<use href="#s" x="1448.0" y="191.3"/>
<use href="#s" x="1448.0" y="194.5"/>
<use href="#s" x="1448.0" y="197.8"/>
<use href="#s" x="1448.0" y="207.6"/>
<use href="#s" x="1448.0" y="210.8"/>
<use href="#s" x="1448.0" y="214.1"/>
<use href="#s" x="1448.0" y="217.3"/>
<use href="#s" x="1448.0" y="230.4"/>
<use href="#s" x="1448.0" y="1169.0"/>
<use href="#s" x="1448.0" y="1172.2"/>
<use href="#s" x="1451.2" y="191.3"/>
<use href="#s" x="1451.2" y="194.5"/>
<use href="#s" x="1451.2" y="197.8"/>
<use href="#s" x="1451.2" y="207.6"/>
<use href="#s" x="1451.2" y="1169.0"/>
<use href="#s" x="1451.2" y="1172.2"/>
<use href="#s" x="1451.2" y="1178.7"/>
<use href="#s" x="1451.2" y="1182.0"/>
<use href="#s" x="1454.5" y="191.3"/>
<use href="#s" x="1454.5" y="194.5"/>
<use href="#s" x="1454.5" y="197.8"/>
<use href="#s" x="1454.5" y="207.6"/>
<use href="#s" x="1454.5" y="217.3"/>
<use href="#s" x="1454.5" y="220.6"/>
<use href="#s" x="1454.5" y="223.8"/>
<use href="#s" x="1454.5" y="227.1"/>
<use href="#s" x="1454.5" y="230.4"/>
<use href="#s" x="1454.5" y="1169.0"/>
<use href="#s" x="1454.5" y="1172.2"/>
<use href="#s" x="1457.8" y="220.6"/>
<use href="#s" x="1457.8" y="223.8"/>
<use href="#s" x="1457.8" y="227.1"/>
<use href="#s" x="1457.8" y="230.4"/>
<use href="#s" x="1457.8" y="1178.7"/>
<use href="#s" x="1457.8" y="1182.0"/>
<use href="#s" x="1461.0" y="220.6"/>
<use href="#s" x="1461.0" y="223.8"/>
<use href="#s" x="1461.0" y="227.1"/>
<use href="#s" x="1461.0" y="230.4"/>
<use href="#s" x="1464.3" y="191.3"/>
<use href="#s" x="1464.3" y="230.4"/>
<use href="#s" x="1467.5" y="1169.0"/>
<use href="#s" x="1467.5" y="1178.7"/>
<use href="#s" x="1467.5" y="1182.0"/>
<use href="#s" x="1467.5" y="1191.8"/>
<use href="#s" x="1470.8" y="1182.0"/>
<use href="#s" x="1470.8" y="1191.8"/>
<use href="#s" x="1474.0" y="184.7"/>
<use href="#s" x="1474.0" y="191.3"/>
<use href="#s" x="1477.3" y="191.3"/>
<use href="#s" x="1477.3" y="197.8"/>
<use href="#s" x="1477.3" y="1182.0"/>
<use href="#s" x="1477.3" y="1188.5"/>
<use href="#s" x="1477.3" y="1191.8"/>
<use href="#s" x="1480.6" y="1182.0"/>
<use href="#s" x="1480.6" y="1188.5"/>
<use href="#s" x="1480.6" y="1191.8"/>
<use href="#s" x="1480.6" y="1195.0"/>
<use href="#s" x="1480.6" y="1204.8"/>
<use href="#s" x="1480.6" y="1211.3"/>
<use href="#s" x="1483.8" y="1191.8"/>
<use href="#s" x="1483.8" y="1195.0"/>
<use href="#s" x="1483.8" y="1204.8"/>
<use href="#s" x="1487.1" y="1299.3"/>
<use href="#s" x="1487.1" y="1309.1"/>
<use href="#s" x="1487.1" y="1312.4"/>
<use href="#s" x="1487.1" y="1318.9"/>
<use href="#s" x="1490.3" y="1191.8"/>
<use href="#s" x="1490.3" y="1195.0"/>
<use href="#s" x="1490.3" y="1204.8"/>
<use href="#s" x="1490.3" y="1208.1"/>
<use href="#s" x="1490.3" y="1211.3"/>
<use href="#s" x="1490.3" y="1266.7"/>
<use href="#s" x="1490.3" y="1273.2"/>
<use href="#s" x="1490.3" y="1286.3"/>
<use href="#s" x="1490.3" y="1289.5"/>
<use href="#s" x="1490.3" y="1296.1"/>
<use href="#s" x="1490.3" y="1299.3"/>
<use href="#s" x="1493.6" y="1191.8"/>
<use href="#s" x="1493.6" y="1195.0"/>
<use href="#s" x="1493.6" y="1204.8"/>
<use href="#s" x="1493.6" y="1208.1"/>
<use href="#s" x="1493.6" y="1211.3"/>
<use href="#s" x="1496.9" y="1296.1"/>
<use href="#s" x="1496.9" y="1299.3"/>
<use href="#s" x="1496.9" y="1309.1"/>
<use href="#s" x="1496.9" y="1312.4"/>
<use href="#s" x="1500.1" y="1273.2"/>
<use href="#s" x="1500.1" y="1286.3"/>
<use href="#s" x="1500.1" y="1296.1"/>
<use href="#s" x="1500.1" y="1299.3"/>
<use href="#s" x="1500.1" y="1309.1"/>
<use href="#s" x="1500.1" y="1312.4"/>
<use href="#s" x="1503.4" y="1211.3"/>
<use href="#s" x="1503.4" y="1214.6"/>
<use href="#s" x="1503.4" y="1217.8"/>
<use href="#s" x="1503.4" y="1273.2"/>
<use href="#s" x="1503.4" y="1286.3"/>
<use href="#s" x="1506.6" y="1211.3"/>
<use href="#s" x="1506.6" y="1214.6"/>
<use href="#s" x="1509.9" y="1296.1"/>
<use href="#s" x="1513.2" y="1276.5"/>
<use href="#s" x="1513.2" y="1283.0"/>
<use href="#s" x="1513.2" y="1286.3"/>
<use href="#s" x="1513.2" y="1296.1"/>
</g>
<g>
<use href="#t" x="1174.2" y="341.2"/>
<use href="#t" x="773.4" y="513.9"/>
<use href="#t" x="776.6" y="517.2"/>
<use href="#t" x="779.9" y="520.4"/>
<use href="#t" x="838.5" y="631.2"/>
<use href="#t" x="848.3" y="637.7"/>
<use href="#t" x="861.4" y="650.8"/>
<use href="#t" x="1043.9" y="422.6"/>
<use href="#t" x="1047.1" y="419.4"/>
<use href="#t" x="1050.4" y="416.1"/>
<use href="#t" x="1053.6" y="416.1"/>
<use href="#t" x="1056.9" y="416.1"/>
<use href="#t" x="1047.1" y="425.9"/>
<use href="#t" x="1050.4" y="422.6"/>
<use href="#t" x="1053.6" y="419.4"/>
<use href="#t" x="1050.4" y="419.4"/>
<use href="#t" x="1047.1" y="422.6"/>
<use href="#t" x="851.6" y="637.7"/>
<use href="#t" x="988.5" y="797.4"/>
<use href="#t" x="991.7" y="797.4"/>
<use href="#t" x="991.7" y="800.7"/>
<use href="#t" x="995.0" y="803.9"/>
<use href="#t" x="998.2" y="800.7"/>
<use href="#t" x="998.2" y="807.2"/>
<use href="#t" x="1001.5" y="810.5"/>
<use href="#t" x="995.0" y="800.7"/>
<use href="#t" x="998.2" y="803.9"/>
<use href="#t" x="649.5" y="438.9"/>
<use href="#t" x="639.7" y="448.7"/>
<use href="#t" x="649.5" y="448.7"/>
<use href="#t" x="649.5" y="452.0"/>
<use href="#t" x="652.8" y="461.8"/>
<use href="#t" x="662.6" y="461.8"/>
<use href="#t" x="688.6" y="520.4"/>
<use href="#t" x="1457.8" y="1169.0"/>
<use href="#t" x="1480.6" y="1191.8"/>
<use href="#t" x="1431.7" y="1256.9"/>
<use href="#t" x="1431.7" y="1260.2"/>
<use href="#t" x="1431.7" y="1263.5"/>
<use href="#t" x="1434.9" y="1260.2"/>
<use href="#t" x="1500.1" y="1299.3"/>
<use href="#t" x="1487.1" y="1312.4"/>
</g>
<g stroke="#000" stroke-width="3.1" fill="none" stroke-linecap="round" stroke-linejoin="round">
<rect x="120.2" y="29.8" width="1449.6" height="1450"/>
<path d="M170.45 1480 H1474 M170.45 1480 V1510 M496.4 1480 V1510 M822.3 1480 V1510 M1148.2 1480 V1510 M1474 1480 V1510"/>
<path d="M120.2 80.45 V1384 M120.2 80.45 H90 M120.2 406.4 H90 M120.2 732.3 H90 M120.2 1058.2 H90 M120.2 1384 H90"/>
</g>
<g font-size="50" text-anchor="middle">
<text x="169" y="1589">0</text>
<text x="495" y="1589">100</text>
<text x="821" y="1589">200</text>
<text x="1147" y="1589">300</text>
<text x="1472.6" y="1589">400</text>
<text transform="translate(48.5,81.5) rotate(-90)">0</text>
<text transform="translate(48.5,407.5) rotate(-90)">100</text>
<text transform="translate(48.5,733.5) rotate(-90)">200</text>
<text transform="translate(48.5,1059.5) rotate(-90)">300</text>
<text transform="translate(48.5,1385.5) rotate(-90)">400</text>
</g>
<use href="#t" x="1202.5" y="90"/>
<use href="#s" x="1202.5" y="150"/>
<text x="1248" y="108" font-size="50">DNCON2-RR</text>
<text x="1248" y="168" font-size="50">Model-RR</text>
</svg>
</body></html>
